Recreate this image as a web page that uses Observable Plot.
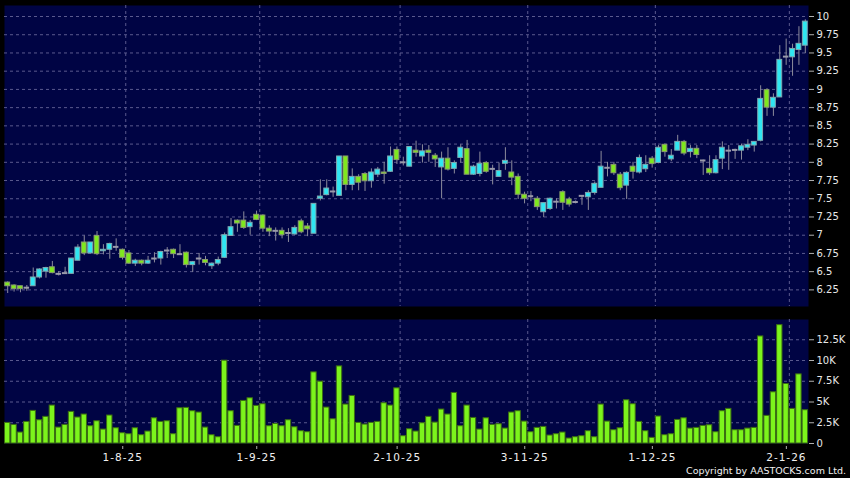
<!DOCTYPE html>
<html>
<head>
<meta charset="utf-8">
<script src="https://cdn.jsdelivr.net/npm/d3@7"></script>
<script src="https://cdn.jsdelivr.net/npm/@observablehq/plot@0.6"></script>
<style>
  html, body { margin: 0; padding: 0; background: #000; }
  #wrap { position: relative; width: 850px; height: 478px; background: #000; overflow: hidden; font-family: "DejaVu Sans", sans-serif; }
  #pricePanel, #volPanel { position: absolute; left: 0; }
  #pricePanel { top: 0; }
  #volPanel { top: 310px; }
  #copy { position: absolute; right: 4px; top: 465px; color: #f0f0f0; font-size: 9.5px; line-height: 12px; font-family: "DejaVu Sans", sans-serif; }
  #volPanel g[aria-label="x-axis tick label"] text { letter-spacing: 1px; }
</style>
</head>
<body>
<div id="wrap">
  <div id="pricePanel"></div>
  <div id="volPanel"></div>
  <div id="copy">Copyright by AASTOCKS.com Ltd.</div>
</div>
<script>
// ---- data ----
const open  = [6.35,6.31,6.30,6.28,6.30,6.42,6.50,6.56,6.47,6.48,
  6.47,6.65,6.90,6.75,6.99,6.78,6.80,6.84,6.80,6.75,
  6.61,6.65,6.61,6.68,6.68,6.79,6.80,6.74,6.76,6.59,
  6.68,6.66,6.575,6.61,6.69,6.99,7.20,7.20,7.11,7.28,
  7.27,7.09,7.06,7.06,7.03,7.01,7.19,7.12,7.02,7.50,
  7.55,7.60,7.54,8.08,7.69,7.80,7.84,7.74,7.83,7.86,
  7.87,8.17,8.00,7.94,8.16,8.08,8.16,8.09,7.93,8.05,
  7.91,8.06,8.18,7.83,7.84,7.99,7.91,7.80,7.98,7.86,
  7.80,7.555,7.535,7.50,7.315,7.36,7.46,7.59,7.49,7.455,
  7.54,7.52,7.58,7.65,7.925,7.965,7.83,7.68,7.94,7.86,
  7.905,8.05,7.99,8.24,8.04,8.16,8.28,8.14,8.185,8.025,
  7.91,7.85,8.05,8.16,8.17,8.16,8.20,8.23,8.295,8.99,
  8.75,8.89,9.45,9.44,9.54,9.60];
const high  = [6.36,6.32,6.30,6.31,6.55,6.54,6.56,6.64,6.50,6.56,
  6.68,6.87,6.99,6.90,7.05,6.87,6.89,6.95,6.81,6.79,
  6.67,6.66,6.71,6.76,6.78,6.83,6.81,6.87,6.77,6.64,
  6.75,6.71,6.62,6.70,7.03,7.23,7.21,7.32,7.20,7.33,
  7.28,7.13,7.10,7.10,7.09,7.13,7.22,7.16,7.43,7.76,
  7.76,7.66,8.08,8.08,7.91,7.83,7.86,7.91,7.93,8.00,
  8.21,8.21,8.07,8.21,8.29,8.24,8.23,8.12,8.14,8.20,
  8.02,8.24,8.30,7.96,8.14,8.01,7.96,7.99,8.20,8.02,
  7.84,7.59,7.60,7.53,7.44,7.51,7.50,7.61,7.52,7.47,
  7.54,7.61,7.73,8.15,8.00,8.00,7.86,7.87,8.00,8.10,
  8.09,8.08,8.23,8.25,8.175,8.37,8.30,8.23,8.23,8.03,
  8.09,8.09,8.28,8.23,8.18,8.25,8.31,8.28,9.05,9.01,
  8.94,9.60,9.69,9.62,9.86,9.955];
const low   = [6.20,6.22,6.21,6.23,6.30,6.40,6.41,6.47,6.44,6.47,
  6.47,6.65,6.72,6.75,6.72,6.73,6.67,6.78,6.66,6.60,
  6.57,6.58,6.60,6.62,6.59,6.68,6.68,6.73,6.55,6.49,
  6.59,6.58,6.53,6.58,6.68,6.99,7.04,7.08,7.00,7.20,
  7.04,6.98,6.92,6.95,6.90,7.00,7.02,6.98,7.02,7.47,
  7.54,7.52,7.54,7.61,7.61,7.61,7.60,7.645,7.79,7.70,
  7.86,7.97,7.95,7.94,8.07,7.99,8.00,7.93,7.50,7.88,
  7.84,7.99,7.83,7.82,7.80,7.85,7.69,7.80,7.89,7.68,
  7.49,7.43,7.46,7.34,7.24,7.34,7.36,7.34,7.385,7.43,
  7.41,7.34,7.55,7.65,7.80,7.82,7.61,7.49,7.77,7.84,
  7.86,7.92,7.98,8.07,8.01,8.16,8.09,8.06,8.05,7.82,
  7.82,7.84,7.90,7.89,8.04,8.03,8.16,8.14,8.28,8.63,
  8.63,8.89,9.33,9.18,9.33,9.49];
const close = [6.30,6.26,6.26,6.28,6.42,6.53,6.55,6.48,6.47,6.48,
  6.68,6.83,6.75,6.90,6.74,6.80,6.88,6.84,6.69,6.61,
  6.65,6.61,6.65,6.68,6.77,6.79,6.74,6.74,6.59,6.63,
  6.68,6.62,6.61,6.66,7.00,7.11,7.16,7.10,7.17,7.21,
  7.09,7.05,7.06,7.00,7.03,7.10,7.04,7.08,7.43,7.53,
  7.64,7.60,8.08,7.69,7.80,7.72,7.74,7.86,7.90,7.84,
  8.08,8.03,8.00,8.21,8.13,8.15,8.13,8.04,8.05,7.90,
  7.99,8.20,7.83,7.94,7.98,7.87,7.91,7.88,8.02,7.79,
  7.555,7.50,7.535,7.385,7.44,7.50,7.46,7.445,7.42,7.455,
  7.54,7.58,7.705,7.94,7.925,7.85,7.645,7.855,7.87,8.06,
  7.965,7.975,8.20,8.14,8.09,8.28,8.12,8.185,8.10,8.025,
  7.85,8.03,8.20,8.16,8.17,8.22,8.24,8.28,8.87,8.75,
  8.885,9.405,9.45,9.555,9.625,9.93];
// volume in thousands of shares
const volume = [2.48,2.24,1.32,2.60,3.93,2.80,3.21,4.57,1.92,2.24,
  3.81,3.13,3.49,2.08,2.68,1.68,3.37,1.84,1.24,1.12,
  1.84,1.00,1.44,3.04,2.60,2.68,1.12,4.25,4.29,3.89,
  3.73,1.92,1.00,0.76,9.98,3.89,2.12,5.13,5.45,4.53,
  4.73,2.08,2.36,2.08,2.80,1.96,1.48,1.36,8.57,7.45,
  4.33,2.92,9.29,4.69,5.73,2.48,2.28,2.48,2.60,4.85,
  4.57,6.65,0.88,1.72,1.44,2.44,3.21,2.52,4.09,3.49,
  6.09,2.08,4.57,3.08,1.68,3.04,2.24,2.32,1.80,3.73,
  3.89,2.64,1.36,1.88,2.00,0.96,1.12,1.32,0.60,0.76,
  0.88,1.48,0.76,4.69,2.64,1.60,1.84,5.21,4.73,2.60,
  1.48,0.68,3.25,1.00,1.12,2.84,3.04,1.80,1.88,2.12,
  2.20,1.36,3.89,4.17,1.60,1.60,1.80,1.88,12.9,3.33,
  6.17,14.26,7.17,4.17,8.33,4.01];
// date tick labels and the trading-day index each one falls on
const dateLabels = ["1-8-25", "1-9-25", "2-10-25", "3-11-25", "1-12-25", "2-1-26"];
const dateIndex  = [19, 40, 62, 82, 102, 123];
const priceTicks = [6.25, 6.5, 6.75, 7, 7.25, 7.5, 7.75, 8, 8.25, 8.5, 8.75, 9, 9.25, 9.5, 9.75, 10];
const volTicks   = [0, 2.5, 5, 7.5, 10, 12.5];

// ---- build ----
const rows = open.map((o, i) => ({i, o, h: high[i], l: low[i], c: close[i], v: volume[i]}));
const up = rows.filter(d => d.c > d.o);
const down = rows.filter(d => d.c < d.o);
const flat = rows.filter(d => d.c === d.o);

const NAVY = "#000444";
const GRID = "#5a5a8e";
const DASH = "3,3";
const xDomain = [-0.5, rows.length - 0.5];
const gridX = dateIndex.map(i => i - 0.5);
const hw = 0.38;

const common = {
  width: 850, marginLeft: 4, marginRight: 42,
  style: {background: "transparent", color: "#e8e8e8", fontFamily: "DejaVu Sans, sans-serif", fontSize: "10px", overflow: "visible"}
};

const priceChart = Plot.plot({
  ...common,
  height: 310, marginTop: 5, marginBottom: 4,
  x: {domain: xDomain, axis: null, label: null},
  y: {domain: [6.022, 10.151], axis: null, label: null},
  marks: [
    Plot.frame({fill: NAVY}),
    Plot.ruleY(priceTicks, {stroke: GRID, strokeDasharray: DASH}),
    Plot.ruleX(gridX, {stroke: GRID, strokeDasharray: DASH}),
    Plot.ruleX(rows, {x: "i", y1: "l", y2: "h", stroke: "#8c8c9c", strokeWidth: 1}),
    Plot.rectY(up, {x1: d => d.i - hw, x2: d => d.i + hw, y1: "o", y2: "c", fill: "#2fe6f2", stroke: "#7fa8b0", strokeWidth: 1}),
    Plot.rectY(down, {x1: d => d.i - hw, x2: d => d.i + hw, y1: "o", y2: "c", fill: "#7fe81e", stroke: "#8a9a70", strokeWidth: 1}),
    Plot.ruleY(flat, {x1: d => d.i - hw - 0.05, x2: d => d.i + hw + 0.05, y: "o", stroke: "#9a9aaa", strokeWidth: 2}),
    Plot.axisY(priceTicks, {anchor: "right", label: null, tickSize: 5, tickPadding: 3, tickFormat: d => String(d), stroke: "#b0b0b0", fill: "#e8e8e8", fontSize: 10})
  ]
});
document.getElementById("pricePanel").append(priceChart);

const volChart = Plot.plot({
  ...common,
  height: 168, marginTop: 9, marginBottom: 35,
  x: {domain: xDomain, axis: null, label: null},
  y: {domain: [0, 14.94], axis: null, label: null},
  marks: [
    Plot.frame({fill: NAVY}),
    Plot.ruleY(volTicks.filter(t => t > 0), {stroke: GRID, strokeDasharray: DASH}),
    Plot.ruleX(gridX, {stroke: GRID, strokeDasharray: DASH}),
    Plot.rectY(rows, {x1: d => d.i - 0.42, x2: d => d.i + 0.42, y1: 0, y2: "v", fill: "#7cf41c", stroke: "#3c6e12", strokeWidth: 1}),
    Plot.axisY(volTicks, {anchor: "right", label: null, tickSize: 5, tickPadding: 3, tickFormat: d => d === 0 ? "0" : d + "K", stroke: "#b0b0b0", fill: "#e8e8e8", fontSize: 10}),
    Plot.axisX(gridX, {anchor: "bottom", label: null, tickSize: 3, tickPadding: 4, dx: -3, dy: 3, tickFormat: d => dateLabels[gridX.indexOf(d)], stroke: "#b0b0b0", fill: "#f0f0f0", fontSize: 10.5})
  ]
});
document.getElementById("volPanel").append(volChart);
</script>
</body>
</html>
